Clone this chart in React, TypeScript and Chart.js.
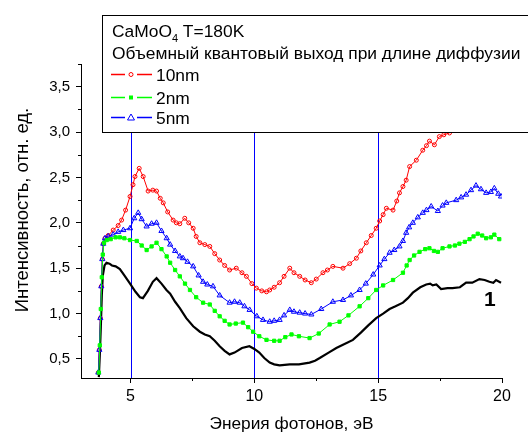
import React, { useEffect, useRef } from "react";
import { Chart, registerables } from "chart.js";

Chart.register(...registerables);

const xTickValues = [5, 10, 15, 20];
const xMinorTicks = [7.5, 12.5, 17.5];
const yTickValues = [0.5, 1.0, 1.5, 2.0, 2.5, 3.0, 3.5];
const yMinorTicks = [0.75, 1.25, 1.75, 2.25, 2.75, 3.25, 3.75];
const markerLines = [5, 10, 15];

const blackX = [3.72, 3.76, 3.8, 3.84, 3.88, 3.95, 4.03, 4.15, 4.25, 4.4, 4.57, 4.75, 4.98, 5.2, 5.38, 5.5, 5.7, 5.9, 6.05, 6.25, 6.45, 6.6, 6.8, 6.99, 7.25, 7.53, 7.8, 8.0, 8.2, 8.4, 8.6, 8.8, 9.0, 9.2, 9.5, 9.8, 10.0, 10.2, 10.4, 10.62, 10.8, 11.02, 11.43, 11.8, 12.23, 12.45, 12.64, 13.0, 13.31, 13.6, 13.98, 14.3, 14.6, 14.92, 15.2, 15.46, 15.7, 16.0, 16.2, 16.4, 16.7, 16.94, 17.1, 17.2, 17.35, 17.54, 17.8, 18.0, 18.3, 18.55, 18.8, 19.09, 19.3, 19.49, 19.65, 19.76, 19.96];
const blackY = [0.3, 0.55, 0.85, 1.2, 1.42, 1.53, 1.56, 1.55, 1.53, 1.52, 1.49, 1.42, 1.33, 1.24, 1.18, 1.17, 1.25, 1.35, 1.39, 1.33, 1.26, 1.22, 1.13, 1.06, 0.95, 0.86, 0.8, 0.77, 0.75, 0.7, 0.64, 0.59, 0.55, 0.57, 0.62, 0.64, 0.61, 0.57, 0.51, 0.46, 0.44, 0.43, 0.44, 0.44, 0.46, 0.48, 0.51, 0.57, 0.62, 0.66, 0.71, 0.79, 0.87, 0.95, 1.0, 1.05, 1.08, 1.12, 1.17, 1.23, 1.29, 1.32, 1.33, 1.31, 1.32, 1.27, 1.28, 1.28, 1.29, 1.34, 1.34, 1.38, 1.37, 1.35, 1.34, 1.37, 1.34];

const greenX = [3.72, 3.76, 3.8, 3.84, 3.88, 3.93, 4.04, 4.2, 4.4, 4.57, 4.75, 4.98, 5.25, 5.45, 5.65, 5.85, 6.05, 6.25, 6.46, 6.6, 6.8, 6.99, 7.2, 7.4, 7.65, 7.93, 8.2, 8.4, 8.6, 8.8, 9.0, 9.25, 9.54, 9.75, 9.95, 10.2, 10.49, 10.8, 11.02, 11.25, 11.5, 11.8, 12.23, 12.6, 13.04, 13.44, 13.8, 14.25, 14.6, 14.92, 15.2, 15.6, 16.0, 16.15, 16.27, 16.45, 16.67, 16.9, 17.07, 17.25, 17.41, 17.6, 17.88, 18.1, 18.28, 18.5, 18.69, 18.85, 19.02, 19.2, 19.36, 19.55, 19.69, 19.89];
const greenY = [0.35, 0.65, 1.05, 1.4, 1.65, 1.78, 1.81, 1.82, 1.84, 1.84, 1.83, 1.81, 1.8, 1.75, 1.7, 1.74, 1.78, 1.71, 1.63, 1.56, 1.48, 1.41, 1.33, 1.26, 1.18, 1.12, 1.1, 1.03, 0.97, 0.92, 0.88, 0.89, 0.9, 0.85, 0.8, 0.75, 0.71, 0.7, 0.7, 0.74, 0.77, 0.75, 0.73, 0.78, 0.88, 0.91, 0.98, 1.08, 1.17, 1.26, 1.31, 1.37, 1.45, 1.53, 1.59, 1.64, 1.68, 1.71, 1.72, 1.69, 1.68, 1.72, 1.74, 1.75, 1.77, 1.79, 1.82, 1.85, 1.88, 1.86, 1.83, 1.84, 1.87, 1.82];

const blueX = [3.7, 3.74, 3.78, 3.82, 3.86, 3.9, 3.97, 4.1, 4.3, 4.5, 4.71, 4.98, 5.15, 5.31, 5.45, 5.65, 5.85, 6.05, 6.25, 6.46, 6.6, 6.8, 6.99, 7.12, 7.3, 7.53, 7.75, 7.93, 8.1, 8.33, 8.6, 9.0, 9.2, 9.41, 9.6, 9.81, 10.1, 10.35, 10.62, 10.8, 11.02, 11.2, 11.43, 11.6, 11.83, 12.05, 12.3, 12.7, 13.17, 13.58, 13.9, 14.25, 14.5, 14.8, 15.06, 15.25, 15.46, 15.65, 15.86, 16.0, 16.13, 16.25, 16.4, 16.6, 16.8, 16.95, 17.14, 17.41, 17.6, 17.75, 18.15, 18.35, 18.55, 18.75, 18.95, 19.15, 19.36, 19.55, 19.69, 19.85, 19.96];
const blueY = [0.35, 0.6, 0.95, 1.3, 1.6, 1.77, 1.83, 1.85, 1.87, 1.9, 1.92, 1.94, 2.05, 2.11, 2.04, 1.96, 1.99, 2.0, 1.91, 1.83, 1.76, 1.69, 1.63, 1.61, 1.57, 1.52, 1.42, 1.35, 1.32, 1.3, 1.2, 1.12, 1.13, 1.12, 1.08, 1.04, 0.97, 0.93, 0.91, 0.92, 0.93, 0.98, 1.04, 1.02, 1.01, 1.0, 0.99, 1.05, 1.13, 1.15, 1.2, 1.26, 1.33, 1.43, 1.53, 1.6, 1.67, 1.7, 1.74, 1.8, 1.89, 1.95, 2.0, 2.06, 2.11, 2.14, 2.18, 2.13, 2.19, 2.22, 2.25, 2.28, 2.31, 2.36, 2.41, 2.37, 2.33, 2.34, 2.38, 2.32, 2.29];

const redX = [3.7, 3.74, 3.78, 3.82, 3.86, 3.9, 3.97, 4.1, 4.3, 4.5, 4.64, 4.8, 4.98, 5.1, 5.18, 5.35, 5.51, 5.71, 5.9, 6.05, 6.2, 6.32, 6.5, 6.72, 6.85, 6.99, 7.19, 7.35, 7.53, 7.65, 7.8, 8.0, 8.2, 8.4, 8.6, 8.8, 9.0, 9.27, 9.5, 9.68, 9.9, 10.08, 10.3, 10.49, 10.62, 10.8, 11.02, 11.2, 11.43, 11.6, 11.83, 12.05, 12.3, 12.5, 12.77, 12.95, 13.17, 13.58, 13.85, 14.12, 14.3, 14.52, 14.72, 14.92, 15.06, 15.2, 15.33, 15.6, 15.75, 15.86, 16.0, 16.13, 16.27, 16.54, 16.8, 16.95, 17.07, 17.27, 17.47, 17.65, 17.88, 18.1, 18.4, 18.7, 19.0, 19.3, 19.6, 19.9];
const redY = [0.35, 0.6, 0.95, 1.3, 1.6, 1.77, 1.83, 1.86, 1.92, 1.97, 2.03, 2.14, 2.29, 2.42, 2.51, 2.6, 2.51, 2.35, 2.36, 2.35, 2.27, 2.22, 2.12, 2.03, 2.0, 1.99, 2.05, 2.0, 1.94, 1.85, 1.78, 1.76, 1.74, 1.66, 1.59, 1.53, 1.48, 1.5, 1.45, 1.41, 1.33, 1.28, 1.25, 1.24, 1.26, 1.29, 1.34, 1.41, 1.5, 1.45, 1.41, 1.37, 1.34, 1.38, 1.45, 1.48, 1.52, 1.5, 1.55, 1.61, 1.69, 1.78, 1.86, 1.94, 2.02, 2.09, 2.16, 2.14, 2.24, 2.33, 2.4, 2.47, 2.62, 2.69, 2.8, 2.85, 2.9, 2.86, 2.95, 2.97, 2.99, 3.05, 3.1, 3.15, 3.2, 3.24, 3.27, 3.3];

const legendTitle = "CaMoO";
const legendSub = "4";
const legendTitleRest = " T=180K";
const legendLine2 = "Объемный квантовый выход при длине диффузии";
const seriesNames = ["10nm", "2nm", "5nm"];
const xTitle = "Энерия фотонов, эВ";
const yTitle = "Интенсивность, отн. ед.";
const curveLabel = "1";

const FONT = "'Liberation Sans', Arial, sans-serif";

function pts(xs: number[], ys: number[]) {
  return xs.map((x, i) => ({ x, y: ys[i] }));
}

const decorPlugin = {
  id: "decor",
  beforeDatasetsDraw(chart: any) {
    const { ctx, chartArea, scales } = chart;
    const xs = scales.x;
    const ys = scales.y;
    ctx.save();
    ctx.strokeStyle = "#0000ff";
    ctx.lineWidth = 1;
    for (const v of markerLines) {
      const px = Math.round(xs.getPixelForValue(v)) + 0.5;
      ctx.beginPath();
      ctx.moveTo(px, chartArea.top);
      ctx.lineTo(px, chartArea.bottom);
      ctx.stroke();
    }
    ctx.strokeStyle = "#000";
    for (const v of xMinorTicks) {
      const px = Math.round(xs.getPixelForValue(v)) + 0.5;
      ctx.beginPath();
      ctx.moveTo(px, chartArea.bottom);
      ctx.lineTo(px, chartArea.bottom + 3);
      ctx.stroke();
    }
    for (const v of yMinorTicks) {
      const py = Math.round(ys.getPixelForValue(v)) + 0.5;
      ctx.beginPath();
      ctx.moveTo(chartArea.left - 3, py);
      ctx.lineTo(chartArea.left, py);
      ctx.stroke();
    }
    ctx.restore();
  },
  afterDatasetsDraw(chart: any) {
    const { ctx, chartArea } = chart;
    ctx.save();
    // legend box
    ctx.fillStyle = "#fff";
    ctx.fillRect(102, 15, 440, 118);
    ctx.strokeStyle = "#000";
    ctx.lineWidth = 1;
    ctx.strokeRect(102.5, 15.5, 440, 117);
    ctx.fillStyle = "#000";
    ctx.textAlign = "left";
    ctx.textBaseline = "alphabetic";
    ctx.font = `17.4px ${FONT}`;
    ctx.fillText(legendTitle, 112, 37);
    const w1 = ctx.measureText(legendTitle).width;
    ctx.font = `11px ${FONT}`;
    ctx.fillText(legendSub, 112 + w1, 42);
    const w2 = ctx.measureText(legendSub).width;
    ctx.font = `17.4px ${FONT}`;
    ctx.fillText(legendTitleRest, 112 + w1 + w2, 37);
    ctx.fillText(legendLine2, 112, 59);
    const rows = [81, 104, 124];
    const colors = ["#ff0000", "#00ff00", "#0000ff"];
    for (let i = 0; i < 3; i++) {
      const ly = rows[i] - 6.5;
      ctx.strokeStyle = colors[i];
      ctx.lineWidth = 1.5;
      ctx.beginPath();
      ctx.moveTo(111, ly);
      ctx.lineTo(125, ly);
      ctx.moveTo(137, ly);
      ctx.lineTo(152, ly);
      ctx.stroke();
      ctx.lineWidth = 1;
      if (i === 0) {
        ctx.beginPath();
        ctx.arc(131, ly, 2, 0, Math.PI * 2);
        ctx.stroke();
      } else if (i === 1) {
        ctx.fillStyle = colors[i];
        ctx.fillRect(129, ly - 2, 4, 4);
      } else {
        ctx.beginPath();
        ctx.moveTo(131, ly - 3.5);
        ctx.lineTo(134.5, ly + 2.5);
        ctx.lineTo(127.5, ly + 2.5);
        ctx.closePath();
        ctx.stroke();
      }
      ctx.fillStyle = "#000";
      ctx.fillText(seriesNames[i], 156, rows[i]);
    }
    // curve label
    ctx.font = `bold 21px ${FONT}`;
    ctx.fillText(curveLabel, 484, 306);
    // axis titles
    ctx.font = `17.3px ${FONT}`;
    ctx.textAlign = "center";
    ctx.fillText(xTitle, (chartArea.left + chartArea.right) / 2, 429);
    ctx.font = `18.5px ${FONT}`;
    ctx.translate(28, 210);
    ctx.rotate(-Math.PI / 2);
    ctx.fillText(yTitle, 0, 0);
    ctx.restore();
  },
};

export default function App() {
  const ref = useRef<HTMLCanvasElement>(null);
  useEffect(() => {
    if (!ref.current) return;
    const mk = (label: string, xs: number[], ys: number[], extra: any) => ({
      label,
      data: pts(xs, ys),
      tension: 0,
      ...extra,
    });
    const chart = new Chart(ref.current, {
      type: "line",
      data: {
        datasets: [
          mk("2nm", greenX, greenY, {
            borderColor: "#00ff00",
            borderWidth: 1,
            pointStyle: "rect",
            pointRadius: 2.3,
            pointBackgroundColor: "#00ff00",
            pointBorderColor: "#00ff00",
            pointBorderWidth: 1,
          }),
          mk("5nm", blueX, blueY, {
            borderColor: "#0000ff",
            borderWidth: 1,
            pointStyle: "triangle",
            pointRadius: 3,
            pointBackgroundColor: "rgba(0,0,0,0)",
            pointBorderColor: "#0000ff",
            pointBorderWidth: 1,
          }),
          mk("10nm", redX, redY, {
            borderColor: "#ff0000",
            borderWidth: 1,
            pointStyle: "circle",
            pointRadius: 2,
            pointBackgroundColor: "rgba(0,0,0,0)",
            pointBorderColor: "#ff0000",
            pointBorderWidth: 1,
          }),
          mk("1", blackX, blackY, {
            borderColor: "#000000",
            borderWidth: 2.2,
            pointRadius: 0,
          }),
        ],
      },
      options: {
        animation: false,
        responsive: false,
        devicePixelRatio: 1,
        parsing: true,
        layout: { padding: { top: 64, right: 26, left: 0, bottom: 0 } },
        plugins: { legend: { display: false }, tooltip: { enabled: false } },
        scales: {
          x: {
            type: "linear",
            min: 3,
            max: 20,
            afterBuildTicks: (s: any) => {
              s.ticks = xTickValues.map((v) => ({ value: v }));
            },
            afterFit: (s: any) => {
              s.height = 54;
            },
            ticks: {
              color: "#000",
              font: { family: FONT, size: 16 },
              padding: 4,
              maxRotation: 0,
              callback: (v: any) => String(v),
            },
            grid: { drawOnChartArea: false, tickLength: 5, color: "#000" },
            border: { color: "#000", width: 1 },
          },
          y: {
            type: "linear",
            min: 0.29,
            max: 3.75,
            afterBuildTicks: (s: any) => {
              s.ticks = yTickValues.map((v) => ({ value: v }));
            },
            afterFit: (s: any) => {
              s.width = 81;
            },
            ticks: {
              color: "#000",
              font: { family: FONT, size: 15 },
              padding: 6,
              callback: (v: any) => Number(v).toFixed(1).replace(".", ","),
            },
            grid: { drawOnChartArea: false, tickLength: 5, color: "#000" },
            border: { color: "#000", width: 1 },
          },
        },
      },
      plugins: [decorPlugin],
    });
    return () => chart.destroy();
  }, []);
  return (
    <div style={{ position: "fixed", left: 0, top: 0, width: 528, height: 432, background: "#fff" }}>
      <canvas ref={ref} width={528} height={432} style={{ display: "block" }} />
    </div>
  );
}
